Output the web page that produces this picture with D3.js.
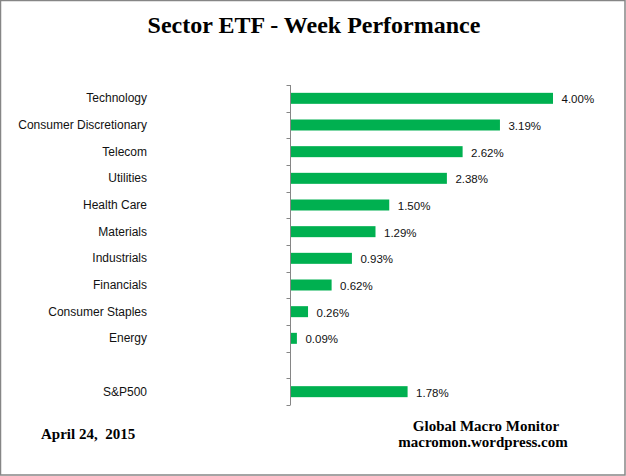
<!DOCTYPE html>
<html>
<head>
<meta charset="utf-8">
<script src="https://cdn.jsdelivr.net/npm/d3@7"></script>
<style>
  html, body { margin: 0; padding: 0; background: #fff; }
  svg { display: block; }
</style>
</head>
<body>
<svg id="chart" width="626" height="476"></svg>
<script>
const sectors = ['Technology', 'Consumer Discretionary', 'Telecom', 'Utilities', 'Health Care',
  'Materials', 'Industrials', 'Financials', 'Consumer Staples', 'Energy', '', 'S&P500'];
const weekReturns = [4.00, 3.19, 2.62, 2.38, 1.50, 1.29, 0.93, 0.62, 0.26, 0.09, null, 1.78];

const W = 626, H = 476;
const svg = d3.select('#chart');
const serif = '"Liberation Serif", "Times New Roman", serif';
const sans = '"Liberation Sans", Arial, sans-serif';

// frame
svg.append('rect')
  .attr('x', 0.5).attr('y', 0.5)
  .attr('width', W - 1.5).attr('height', H - 1.5)
  .attr('fill', '#fff').attr('stroke', '#868686').attr('stroke-width', 1.5);

svg.append('text')
  .attr('x', 314).attr('y', 33)
  .attr('text-anchor', 'middle')
  .style('font-family', serif)
  .style('font-weight', 'bold').style('font-size', '24px')
  .text('Sector ETF - Week Performance');

const x0 = 290.5;
const x = d3.scaleLinear().domain([0, 4]).range([x0, x0 + 262]);
const yb = d3.scaleBand().domain(d3.range(sectors.length)).range([85, 405]);

// category labels
svg.append('g').selectAll('text')
  .data(sectors)
  .join('text')
  .attr('x', 147)
  .attr('y', (d, i) => yb(i) + yb.bandwidth() / 2)
  .attr('text-anchor', 'end')
  .attr('dominant-baseline', 'central')
  .style('font-family', sans)
  .style('font-size', '12px')
  .attr('fill', '#111')
  .text(d => d);

// axis line + ticks
const axis = svg.append('g').attr('stroke', '#868686').attr('stroke-width', 1);
axis.append('line').attr('x1', x0).attr('x2', x0).attr('y1', 85).attr('y2', 405);
axis.selectAll('line.tick')
  .data(d3.range(sectors.length + 1))
  .join('line')
  .attr('class', 'tick')
  .attr('x1', x0 - 4).attr('x2', x0)
  .attr('y1', i => Math.round(85 + i * yb.step()) + 0.5)
  .attr('y2', i => Math.round(85 + i * yb.step()) + 0.5);

const rows = weekReturns.map((v, i) => ({v, i})).filter(d => d.v !== null);

svg.append('g').selectAll('rect')
  .data(rows)
  .join('rect')
  .attr('x', x0 + 0.5)
  .attr('y', d => yb(d.i) + yb.bandwidth() / 2 - 5.5)
  .attr('width', d => x(d.v) - x0)
  .attr('height', 11)
  .attr('fill', '#00b050');

svg.append('g').selectAll('text')
  .data(rows)
  .join('text')
  .attr('x', d => x(d.v) + 9)
  .attr('y', d => yb(d.i) + yb.bandwidth() / 2 + 1)
  .attr('dominant-baseline', 'central')
  .style('font-family', sans)
  .style('font-size', '11.5px')
  .attr('fill', '#111')
  .text(d => d.v.toFixed(2) + '%');

svg.append('text')
  .attr('x', 41).attr('y', 439)
  .style('font-family', serif).style('font-weight', 'bold').style('font-size', '15px')
  .attr('xml:space', 'preserve')
  .text('April 24,  2015');

svg.append('text')
  .attr('x', 486).attr('y', 431)
  .attr('text-anchor', 'middle')
  .style('font-family', serif).style('font-weight', 'bold').style('font-size', '15px')
  .text('Global Macro Monitor');

svg.append('text')
  .attr('x', 483).attr('y', 447)
  .attr('text-anchor', 'middle')
  .style('font-family', serif).style('font-weight', 'bold').style('font-size', '15px')
  .text('macromon.wordpress.com');
</script>
</body>
</html>
